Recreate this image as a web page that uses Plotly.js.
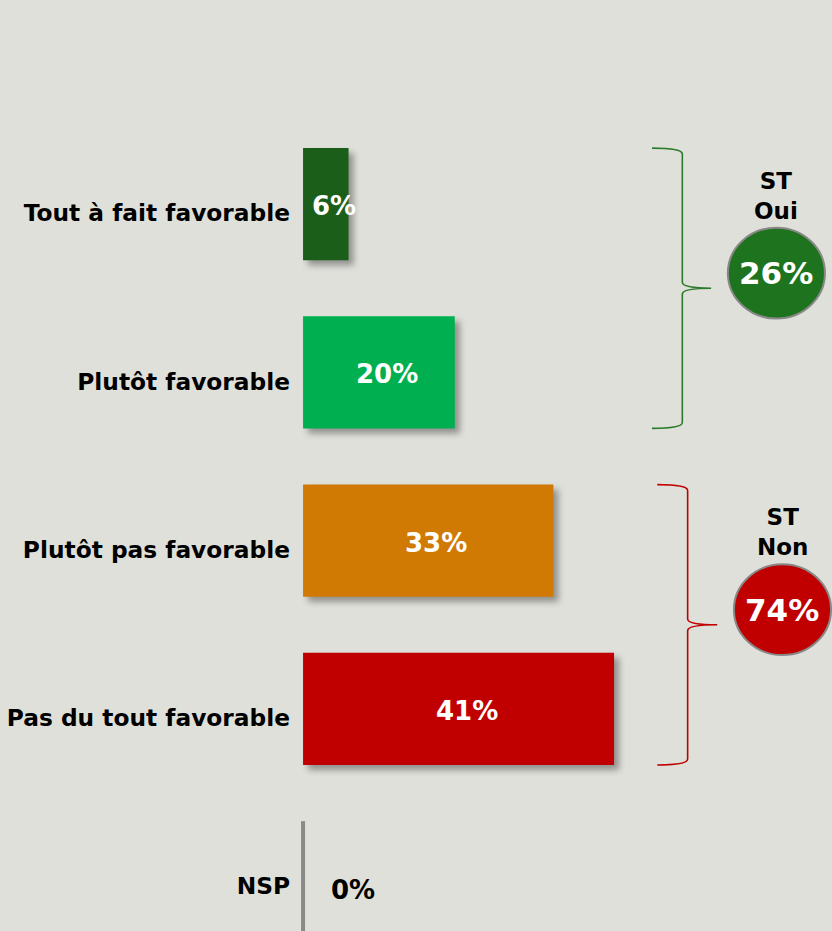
<!DOCTYPE html>
<html>
<head>
<meta charset="utf-8">
<script src="https://cdn.plot.ly/plotly-3.0.1.min.js"></script>
<style>
  html, body { margin: 0; padding: 0; background: #dfe0da; }
  #chart { width: 832px; height: 931px; }
  .bars .point path { filter: drop-shadow(5px 5px 3px rgba(0,0,0,0.35)); }
</style>
</head>
<body>
<div id="chart"></div>
<script>
// ---- data ----
const categories = ["Tout à fait favorable", "Plutôt favorable", "Plutôt pas favorable", "Pas du tout favorable", "NSP"];
const values = [6, 20, 33, 41, 0];
const valueLabels = ["6%", "20%", "33%", "41%", "0%"];
const barColors = ["#1a5e1a", "#00b050", "#d07a04", "#c00000", "#8a8a8a"];

const groupTitles = ["ST<br>Oui", "ST<br>Non"];
const groupValues = [26, 74];
const groupMembers = [[0, 1], [2, 3]];
const groupColors = ["#1e731e", "#c00000"];
const braceColors = ["#2a7a2a", "#c00000"];

// ---- style constants ----
const FONT = "DejaVu Sans, Verdana, sans-serif";
const barWidth = 0.666;
const half = barWidth / 2;
const idx = categories.map((_, i) => i);

const shapes = [];
const annotations = [];

// value labels
values.forEach((v, i) => {
  const zero = v === 0;
  annotations.push({
    x: zero ? 0 : v / 2, y: i, xref: "x", yref: "y",
    text: "<b>" + valueLabels[i] + "</b>",
    showarrow: false,
    xanchor: zero ? "left" : "center",
    xshift: zero ? 26 : 8,
    yshift: zero ? -13 : -2,
    font: { family: FONT, size: 26, color: zero ? "#000000" : "#ffffff" }
  });
  if (zero) {
    shapes.push({
      type: "line", xref: "x", yref: "y",
      x0: 0, x1: 0, y0: i - half, y1: i + half,
      line: { color: barColors[i], width: 4 }
    });
  }
});

// braces, circles and group labels
const braceX = [[46.0, 50.0, 53.8], [46.7, 50.7, 54.6]];
const circleX = [62.4, 63.2];
groupMembers.forEach((m, g) => {
  const yTop = m[0] - half;
  const yBot = m[m.length - 1] + half;
  const yMid = (yTop + yBot) / 2;
  const [x0, x1, x2] = braceX[g];
  const d = 0.035;
  const path = `M ${x0},${yTop} Q ${x1},${yTop} ${x1},${yTop + d} L ${x1},${yMid - d} Q ${x1},${yMid} ${x2},${yMid} ` +
               `Q ${x1},${yMid} ${x1},${yMid + d} L ${x1},${yBot - d} Q ${x1},${yBot} ${x0},${yBot}`;
  shapes.push({ type: "path", xref: "x", yref: "y", path: path, line: { color: braceColors[g], width: 1.6 } });

  const cx = circleX[g];
  const cy = yMid - 0.09;
  shapes.push({
    type: "circle", xref: "x", yref: "y",
    x0: cx - 6.4, x1: cx + 6.4, y0: cy - 0.27, y1: cy + 0.27,
    fillcolor: groupColors[g], line: { color: "#888888", width: 2 }
  });
  annotations.push({
    x: cx, y: cy, xref: "x", yref: "y", showarrow: false,
    text: "<b>" + groupValues[g] + "%</b>",
    font: { family: FONT, size: 31, color: "#ffffff" }
  });
  annotations.push({
    x: cx, y: yMid - 0.55, xref: "x", yref: "y", showarrow: false,
    text: "<b>" + groupTitles[g].replace("<br>", "</b><br><b>") + "</b>",
    font: { family: FONT, size: 23, color: "#000000" }
  });
});

const trace = {
  type: "bar", orientation: "h",
  x: values, y: idx,
  width: barWidth,
  marker: { color: barColors, line: { width: 0 } },
  hoverinfo: "none",
  cliponaxis: false
};

const layout = {
  width: 832, height: 931,
  margin: { l: 301, r: 0, t: 120, b: 0 },
  paper_bgcolor: "#dfe0da",
  plot_bgcolor: "#dfe0da",
  showlegend: false,
  xaxis: { range: [-0.27, 69.73], visible: false, fixedrange: true },
  yaxis: {
    range: [4.32, -0.5],
    tickmode: "array", tickvals: idx,
    ticktext: categories.map(c => "<b>" + c + "</b>"),
    showgrid: false, zeroline: false, showline: false, ticks: "",
    ticklabelstandoff: 10, ticklabelshift: -9,
    tickfont: { family: FONT, size: 23.3, color: "#000000" },
    fixedrange: true
  },
  shapes: shapes,
  annotations: annotations
};

Plotly.newPlot("chart", [trace], layout, { displayModeBar: false, staticPlot: true });
</script>
</body>
</html>
